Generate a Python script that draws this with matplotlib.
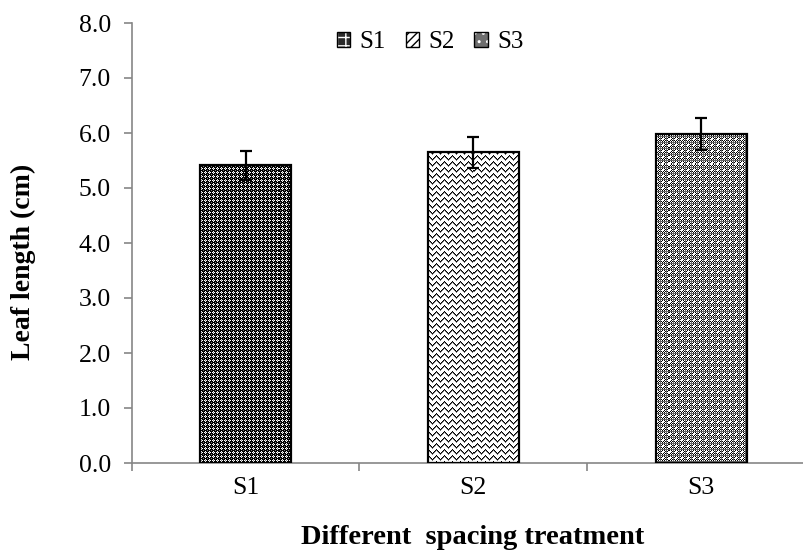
import numpy as np
import matplotlib
matplotlib.use("Agg")
import matplotlib.pyplot as plt
from matplotlib.patches import Patch
from matplotlib.ticker import FixedLocator
from matplotlib.legend_handler import HandlerTuple

# ---- data ----
categories = ["S1", "S2", "S3"]
leaf_length = [5.41, 5.65, 5.99]
errors = [0.27, 0.28, 0.29]
y_ticks = [0.0, 1.0, 2.0, 3.0, 4.0, 5.0, 6.0, 7.0, 8.0]

plt.rcParams['font.family'] = ['Liberation Serif', 'DejaVu Serif']

W, H = 804, 550
fig = plt.figure(figsize=(W / 100, H / 100), dpi=100)
ax_left, ax_right = 131.7 / W, 815 / W
ax_bot, ax_top = (H - 463) / H, (H - 23) / H
ax = fig.add_axes([ax_left, ax_bot, ax_right - ax_left, ax_top - ax_bot])

x = np.arange(len(categories))
bars = ax.bar(x, leaf_length, width=0.4, facecolor='none', edgecolor='black',
              linewidth=1.6, zorder=3)
ax.errorbar(x, leaf_length, yerr=errors, fmt='none', ecolor='black',
            elinewidth=1.6, capsize=4.5, capthick=1.6, zorder=4)

ax.set_xlim(-0.5, 2.5)
ax.set_ylim(0, 8)

# ---- pattern fills (pixel tiles) ----
def str_tile(t):
    m = {'k': 0.0, 'w': 1.0, 'g': 0.5}
    return np.array([[m[ch] for ch in row] for row in t])

def tile_s1():
    return str_tile(["kwkk",
                     "wgwk",
                     "kwkk",
                     "kkkg"])

def tile_s2():
    h = [0, 1, 2, 3, 4, 3, 2, 1]
    arr = np.ones((6, 8))
    for r in range(6):
        for c in range(8):
            d = (r - h[c]) % 6
            if d == 0:
                arr[r, c] = 0.0
            elif d == 1:
                arr[r, c] = 0.45
    return arr

def tile_s3():
    arr = np.zeros((6, 6))
    for r in range(6):
        for c in range(6):
            arr[r, c] = 1.0 if (r + c) % 2 == 0 else 0.0
    arr[0, :] = 0.4
    arr[:, 0] = 0.4
    arr[3, 3] = 1.0
    arr[3, 2] = 1.0
    arr[2, 3] = 1.0
    return arr

tiles = [tile_s1(), tile_s2(), tile_s3()]

pw = int(round((ax_right - ax_left) * W))
ph = int(round((ax_top - ax_bot) * H))
for bar, tile in zip(bars, tiles):
    reps = (ph // tile.shape[0] + 1, pw // tile.shape[1] + 1)
    img = np.tile(tile, reps)[:ph, :pw]
    im = ax.imshow(img, cmap='gray', vmin=0, vmax=1, interpolation='nearest',
                   extent=(-0.5, 2.5, 0, 8), origin='upper', aspect='auto',
                   zorder=2)
    im.set_clip_path(bar)

# ---- axes styling ----
axis_color = '#868686'
for s in ['top', 'right']:
    ax.spines[s].set_visible(False)
for s in ['left', 'bottom']:
    ax.spines[s].set_color(axis_color)
    ax.spines[s].set_linewidth(1.2)

ax.set_yticks(y_ticks)
ax.set_yticklabels([f"{v:.1f}" for v in y_ticks])
ax.tick_params(axis='y', direction='out', length=6, width=1.2, color=axis_color,
               labelsize=18.5, pad=9, labelcolor='black')

ax.set_xticks(x)
ax.set_xticklabels(categories)
ax.tick_params(axis='x', which='major', length=0, labelsize=18.5, pad=10)
ax.xaxis.set_minor_locator(FixedLocator([-0.5, 0.5, 1.5, 2.5]))
ax.tick_params(axis='x', which='minor', direction='out', length=6, width=1.2,
               color=axis_color)

fig.text(473 / W, 6 / H, "Different  spacing treatment", ha='center',
         va='baseline', fontsize=20.5, fontweight='bold')
fig.text(23 / W, 1 - 262 / H, "Leaf length (cm)", ha='center', va='center',
         rotation=90, fontsize=20, fontweight='bold')

# ---- legend ----
legend_styles = [('#2a2a2a', 'white', '++'), ('white', 'black', '////'),
                 ('#6e6e6e', 'white', '..')]
handles = []
for fc, hc, hatch in legend_styles:
    handles.append((Patch(facecolor=fc, edgecolor=hc, hatch=hatch, linewidth=0),
                    Patch(facecolor='none', edgecolor='black', linewidth=1.0)))
fig.legend(handles, categories, loc='center', bbox_to_anchor=(430 / W, 1 - 42 / H),
           ncol=3, frameon=False, fontsize=18, handlelength=0.55, handleheight=0.55,
           handletextpad=0.35, columnspacing=0.8,
           handler_map={tuple: HandlerTuple(ndivide=1, pad=0)})

fig.savefig("out.png", dpi=100)
